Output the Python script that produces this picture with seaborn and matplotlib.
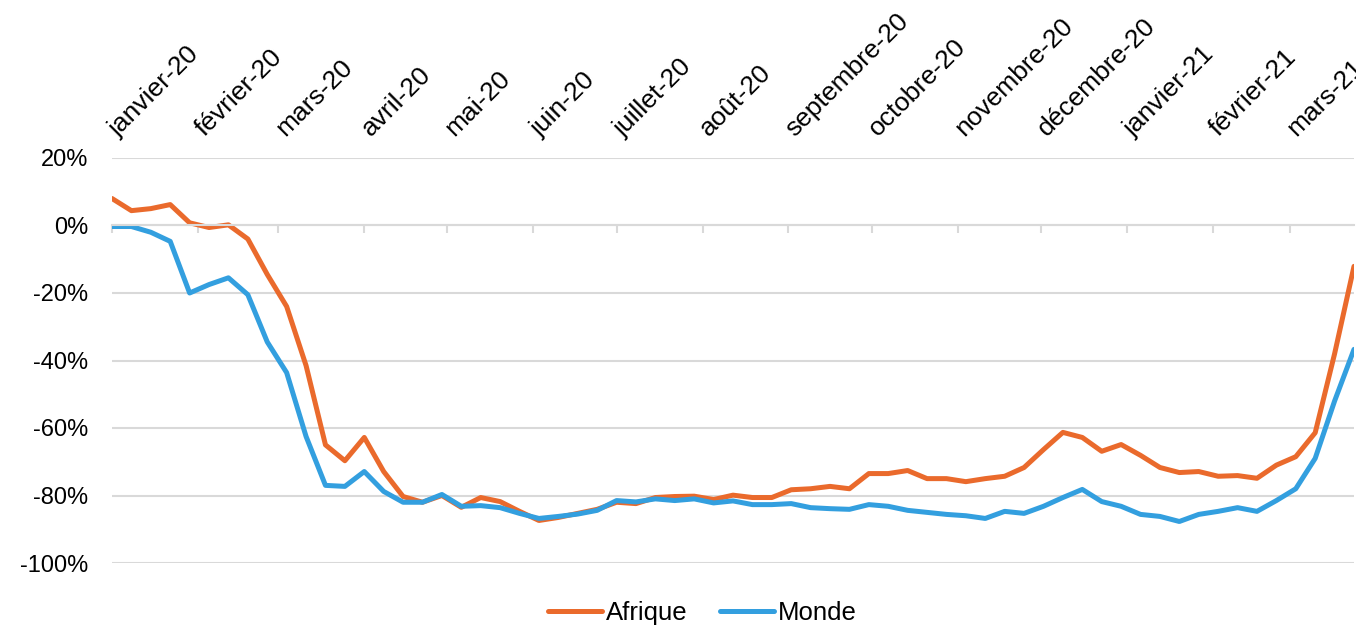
import numpy as np
import pandas as pd
import seaborn as sns
import matplotlib.pyplot as plt
import matplotlib.ticker as mticker
from matplotlib.transforms import ScaledTranslation

# weekly series, Jan 2020 -> Mar 2021 (% change)
dates = pd.date_range('2020-01-01', periods=65, freq='7D')

afrique = [8, 4.4, 5, 6.2, 0.8, -0.6, 0.2, -4, -14.5, -24,
           -41.5, -65, -69.7, -62.8, -72.9, -80.3, -82, -80, -83.5, -80.6,
           -81.8, -84.7, -87.4, -86.5, -85.3, -84.1, -82, -82.4, -80.6, -80.3,
           -80.2, -81.2, -79.9, -80.6, -80.6, -78.3, -78, -77.3, -78, -73.5,
           -73.5, -72.6, -75, -75, -75.9, -75, -74.3, -71.7, -66.4, -61.3,
           -62.8, -66.9, -64.9, -68.1, -71.7, -73.2, -72.9, -74.3, -74.1, -74.9,
           -71, -68.5, -61.4, -38, -12.1]

monde = [-0.3, -0.3, -2, -4.7, -20, -17.5, -15.5, -20.5, -34.5, -43.6,
         -62.5, -77, -77.3, -72.9, -78.8, -82, -82, -79.7, -83.2, -83,
         -83.6, -85.3, -86.8, -86.2, -85.5, -84.4, -81.5, -81.9, -81, -81.5,
         -81, -82.2, -81.6, -82.7, -82.7, -82.4, -83.6, -83.9, -84.1, -82.7,
         -83.2, -84.4, -85, -85.6, -86, -86.8, -84.7, -85.3, -83.2, -80.6,
         -78.2, -81.8, -83.2, -85.6, -86.2, -87.7, -85.6, -84.7, -83.6, -84.7,
         -81.5, -78, -69, -52, -36.7]

month_labels = ['janvier-20', 'février-20', 'mars-20', 'avril-20', 'mai-20',
                'juin-20', 'juillet-20', 'août-20', 'septembre-20', 'octobre-20',
                'novembre-20', 'décembre-20', 'janvier-21', 'février-21', 'mars-21']
month_starts = pd.date_range('2020-01-01', periods=15, freq='MS')

data = pd.concat([
    pd.DataFrame({'date': dates, 'value': afrique, 'zone': 'Afrique'}),
    pd.DataFrame({'date': dates, 'value': monde, 'zone': 'Monde'}),
])

sns.set_style('white')
plt.rcParams['font.family'] = ['Liberation Sans', 'DejaVu Sans']
plt.rcParams['text.color'] = 'black'

fig = plt.figure(figsize=(13.56, 6.28), dpi=100)
ax = fig.add_axes([112 / 1356, 1 - 563 / 628, 1242 / 1356, 405 / 628])

sns.lineplot(data=data, x='date', y='value', hue='zone',
             palette=['#EA6A2C', '#339FDF'], linewidth=3.6, ax=ax,
             legend=True)

# spine first: moving it resets the x ticks
for s in ['top', 'right', 'left']:
    ax.spines[s].set_visible(False)
ax.spines['bottom'].set_position(('data', 0))
ax.spines['bottom'].set_color('#D9D9D9')
ax.spines['bottom'].set_linewidth(1.5)

ax.set_ylim(-100, 20)
ax.set_xlim(dates[0], dates[-1])
ax.set_yticks(np.arange(-100, 21, 20))
ax.yaxis.set_major_formatter(mticker.FuncFormatter(lambda v, p: f'{v:.0f}%'))
ax.yaxis.grid(True, color='#D9D9D9', linewidth=1.5)
ax.set_axisbelow(True)
ax.tick_params(axis='y', length=0, pad=17, labelsize=17, labelcolor='black')

# month labels sit above the plot, tick marks hang under the 0% line
ax.set_xticks(month_starts)
ax.set_xticklabels(month_labels)
ax.tick_params(axis='x', bottom=True, top=False, labelbottom=False,
               labeltop=True, length=6, width=1.5, color='#D9D9D9',
               pad=6.5, labelsize=19, labelcolor='black')
shift = ScaledTranslation(10 / 100, 0, fig.dpi_scale_trans)
for t in ax.xaxis.get_major_ticks():
    t.label2.set_rotation(45)
    t.label2.set_horizontalalignment('left')
    t.label2.set_verticalalignment('bottom')
    t.label2.set_rotation_mode('anchor')
    t.label2.set_transform(t.label2.get_transform() + shift)

ax.set_xlabel('')
ax.set_ylabel('')

handles, labels = ax.get_legend_handles_labels()
ax.legend(handles, labels, loc='center', ncol=2, frameon=False,
          bbox_to_anchor=(0.518, 0.024), bbox_transform=fig.transFigure,
          fontsize=18.5, handlelength=2.1, handletextpad=0.15,
          columnspacing=1.3)

fig.savefig('out.png', dpi=100)
